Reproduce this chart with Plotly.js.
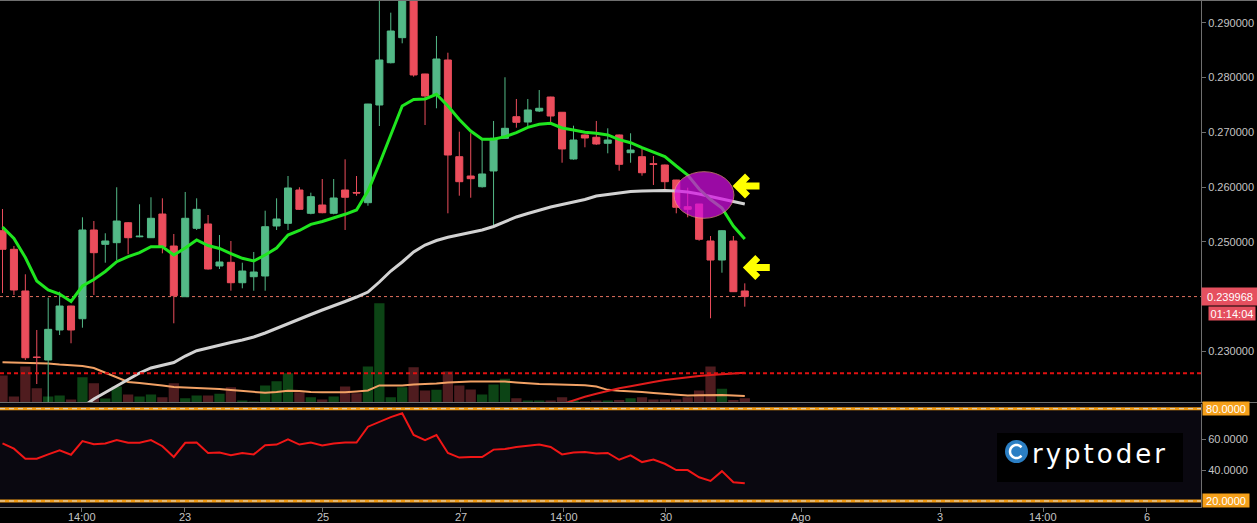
<!DOCTYPE html>
<html>
<head>
<meta charset="utf-8">
<script src="https://cdn.plot.ly/plotly-3.0.1.min.js"></script>
<style>
  html, body { margin: 0; padding: 0; background: #000; }
  #chart { width: 1257px; height: 523px; }
</style>
</head>
<body>
<div id="chart"></div>
<script>
// ---- 4h candles -----------------------------------------------------------
const openPx = [0.25201,0.24861,0.24099,0.22890,0.22837,0.23386,0.23824,0.23592,0.25214,0.24952,
  0.24982,0.25347,0.25090,0.25073,0.25506,0.24921,0.23994,0.25245,0.25324,0.24556,
  0.24623,0.24250,0.24360,0.24373,0.25287,0.25336,0.25945,0.25519,0.25671,0.25519,
  0.25945,0.25900,0.25713,0.27499,0.28272,0.28730,0.29600,0.28066,0.27682,0.28322,
  0.26554,0.26201,0.26005,0.26293,0.26890,0.27285,0.27188,0.27389,0.27645,0.27366,
  0.26512,0.26951,0.26909,0.26799,0.26951,0.26627,0.26554,0.26425,0.26402,0.26128,
  0.25640,0.25689,0.25013,0.24665,0.25013,0.24099];
const highPx = [0.25598,0.24921,0.24404,0.23386,0.23976,0.24086,0.23830,0.25446,0.25378,0.25154,
  0.25995,0.25360,0.25684,0.25812,0.25793,0.25141,0.25909,0.25793,0.25488,0.25122,
  0.25013,0.24616,0.24812,0.25567,0.25793,0.26201,0.25995,0.25896,0.26146,0.26146,
  0.26506,0.26201,0.27520,0.29480,0.29187,0.29800,0.29750,0.28070,0.28761,0.28455,
  0.27011,0.26982,0.26859,0.27207,0.28006,0.27609,0.27609,0.27773,0.27650,0.27370,
  0.27121,0.26960,0.27207,0.27073,0.26960,0.26982,0.26708,0.26567,0.26410,0.26130,
  0.25987,0.25690,0.25104,0.25210,0.25104,0.24239];
const lowPx = [0.24062,0.24026,0.22837,0.22398,0.22050,0.23294,0.23143,0.23428,0.24026,0.24616,
  0.24665,0.24770,0.25080,0.25070,0.24788,0.23508,0.23990,0.25214,0.24490,0.24501,
  0.24104,0.24148,0.24104,0.24104,0.25214,0.25214,0.25580,0.25501,0.25520,0.25501,
  0.25214,0.25840,0.25658,0.27115,0.28260,0.28627,0.28017,0.27133,0.27439,0.25519,
  0.25841,0.25804,0.25990,0.25305,0.26880,0.27084,0.27100,0.27370,0.27165,0.26444,
  0.26500,0.26726,0.26770,0.26616,0.26298,0.26444,0.26207,0.26037,0.25914,0.25519,
  0.25446,0.25018,0.23600,0.24433,0.24080,0.23812];
const closePx = [0.24861,0.24117,0.22879,0.22885,0.23398,0.23824,0.23386,0.25214,0.24799,0.25013,
  0.25378,0.25073,0.25100,0.25428,0.24909,0.24013,0.25428,0.25592,0.24501,0.24629,
  0.24250,0.24464,0.24446,0.25274,0.25415,0.25982,0.25592,0.25823,0.25530,0.25799,
  0.25812,0.25890,0.27517,0.28322,0.28852,0.29600,0.28048,0.27664,0.28340,0.26585,
  0.26097,0.26152,0.26238,0.26890,0.27073,0.27183,0.27408,0.27439,0.27298,0.26695,
  0.26859,0.26896,0.26786,0.26859,0.26415,0.26676,0.26261,0.26415,0.26097,0.25629,
  0.25592,0.25044,0.24665,0.25201,0.24086,0.239968];

// volume (millions) and its moving average
const volume = [1.34,0.30,1.79,0.71,0.30,0.35,0.15,1.26,0.96,0.20,
  0.80,0.40,0.30,0.40,0.26,0.96,0.21,0.35,0.35,0.43,
  0.76,0.10,0.05,0.85,1.06,1.46,0.51,0.26,0.15,0.30,
  0.80,0.46,1.79,4.94,0.26,0.76,1.76,0.60,0.63,1.54,
  0.85,0.65,0.40,0.90,1.18,0.21,0.10,0.10,0.10,0.26,
  0.10,0.06,0.10,0.10,0.13,0.21,0.26,0.15,0.15,0.15,
  0.26,0.60,1.79,0.68,0.13,0.21];
const volumeMA = [2.00,1.99,1.98,1.97,1.94,1.89,1.84,1.82,1.72,1.49,
  1.24,1.02,0.97,0.92,0.85,0.77,0.75,0.72,0.68,0.67,
  0.62,0.57,0.52,0.48,0.52,0.58,0.57,0.52,0.51,0.51,
  0.51,0.55,0.60,0.85,0.85,0.85,0.90,0.92,0.95,1.00,
  1.03,1.04,1.05,1.06,1.04,1.00,0.95,0.92,0.91,0.90,
  0.88,0.86,0.80,0.63,0.58,0.56,0.52,0.47,0.43,0.40,
  0.35,0.36,0.38,0.37,0.35,0.32];

// moving averages on price
const emaFast = [0.25269,0.25058,0.24711,0.24281,0.24117,0.24044,0.23907,0.24190,0.24309,0.24455,
  0.24634,0.24726,0.24799,0.24909,0.24909,0.24757,0.24885,0.25031,0.24930,0.24876,
  0.24784,0.24696,0.24647,0.24757,0.24885,0.25122,0.25205,0.25318,0.25369,0.25428,
  0.25501,0.25580,0.25927,0.26420,0.26951,0.27481,0.27600,0.27609,0.27695,0.27481,
  0.27234,0.27024,0.26872,0.26872,0.26920,0.26993,0.27091,0.27146,0.27165,0.27079,
  0.27042,0.27000,0.26982,0.26951,0.26865,0.26810,0.26718,0.26645,0.26558,0.26384,
  0.26219,0.25963,0.25771,0.25616,0.25287,0.25049];
const smaSlow = [null,null,null,null,null,null,null,0.21978,0.22124,0.22243,
  0.22362,0.22490,0.22600,0.22691,0.22746,0.22791,0.22910,0.23007,0.23057,0.23111,
  0.23157,0.23203,0.23258,0.23331,0.23417,0.23505,0.23596,0.23669,0.23751,0.23824,
  0.23907,0.23989,0.24080,0.24263,0.24464,0.24629,0.24812,0.24940,0.25022,0.25080,
  0.25122,0.25159,0.25214,0.25278,0.25360,0.25452,0.25516,0.25580,0.25634,0.25680,
  0.25726,0.25771,0.25835,0.25863,0.25890,0.25918,0.25927,0.25936,0.25936,0.25927,
  0.25909,0.25872,0.25826,0.25781,0.25744,0.25689];
const smaLong = [null,null,null,null,null,null,null,null,null,null,
  null,null,null,null,null,null,null,null,null,null,
  null,null,null,null,null,null,null,null,null,null,
  null,null,null,null,null,null,null,null,null,null,
  null,null,null,null,null,null,null,null,null,0.22030,
  0.22100,0.22164,0.22219,0.22274,0.22319,0.22356,0.22389,0.22435,0.22472,0.22499,
  0.22521,0.22545,0.22563,0.22581,0.22594,0.22605];

// RSI
const rsi = [57.5,54.0,47.5,47.5,50.3,53.0,50.1,58.9,56.9,57.4,
  59.6,57.8,57.8,59.6,55.6,48.6,57.8,58.0,51.2,51.5,
  49.7,51.2,50.3,56.3,56.7,60.0,56.7,58.0,56.1,57.4,
  58.0,58.0,68.3,71.6,74.5,77.0,62.9,59.6,62.9,51.2,
  48.2,48.6,48.6,53.4,53.8,55.1,55.8,56.7,55.1,50.3,
  51.5,51.9,50.8,51.2,46.8,49.7,45.3,47.0,44.2,40.1,
  40.1,35.4,33.0,39.4,32.2,31.5];

// time axis labels (candle index positions)
const tickPos  = [6.92, 15.95, 28.06, 40.12, 49.15, 58.08, 69.95, 82.1, 91.14, 100.19];
const tickText = ['14:00', '23', '25', '27', '14:00', '30', 'Ago', '3', '14:00', '6'];
const priceTicks = [0.23, 0.24, 0.25, 0.26, 0.27, 0.28, 0.29];
const rsiTicks = [40, 60];
const rsiBands = [80, 20];

const lastPrice = 0.239968;
const countdown = '01:14:04';
const alertLevel = 0.22595;

// ---- geometry helpers -----------------------------------------------------
const W = 1257, H = 523, M = {l: 0, r: 56, t: 1, b: 16};
const plotW = W - M.l - M.r, plotH = H - M.t - M.b;
const PX = px => (px - M.l) / plotW;
const PY = py => (H - M.b - py) / plotH;

const idx = closePx.map((_, i) => i);
const volColors = closePx.map((c, i) => c >= openPx[i] ? '#0c4415' : '#4f1c1f');

const UP = '#53b987', DOWN = '#eb4d5c', AXIS = '#6f6f6f', TXT = '#c4c4c4';
const FONT = 'Liberation Sans, Arial, sans-serif';

const traces = [
  { type: 'bar', x: idx, y: volume, xaxis: 'x', yaxis: 'y',
    marker: { color: volColors, line: { width: 0 } }, hoverinfo: 'skip' },
  { type: 'scatter', mode: 'lines', x: idx, y: volumeMA, xaxis: 'x', yaxis: 'y',
    line: { color: '#f2a165', width: 2 }, hoverinfo: 'skip' },
  { type: 'candlestick', x: idx, open: openPx, high: highPx, low: lowPx, close: closePx,
    xaxis: 'x', yaxis: 'y3', whiskerwidth: 0,
    increasing: { line: { color: UP, width: 1 }, fillcolor: UP },
    decreasing: { line: { color: DOWN, width: 1 }, fillcolor: DOWN },
    hoverinfo: 'skip' },
  { type: 'scatter', mode: 'lines', x: idx, y: smaLong, xaxis: 'x', yaxis: 'y3',
    line: { color: '#e01c1c', width: 2 }, hoverinfo: 'skip' },
  { type: 'scatter', mode: 'lines', x: idx, y: smaSlow, xaxis: 'x', yaxis: 'y3',
    line: { color: '#d2d2d2', width: 3 }, hoverinfo: 'skip' },
  { type: 'scatter', mode: 'lines', x: idx, y: emaFast, xaxis: 'x', yaxis: 'y3',
    line: { color: '#1fe61f', width: 3 }, hoverinfo: 'skip' },
  { type: 'scatter', mode: 'lines', x: idx, y: rsi, xaxis: 'x', yaxis: 'y2',
    line: { color: '#f01616', width: 2 }, hoverinfo: 'skip' }
];

// logo "C" mark: open ring drawn as a polyline around its centre
function ringPath(r, a0, a1, n) {
  let d = '';
  for (let k = 0; k <= n; k++) {
    const a = (a0 + (a1 - a0) * k / n) * Math.PI / 180;
    d += (k ? ' L ' : 'M ') + (r * Math.cos(a)).toFixed(2) + ' ' + (r * Math.sin(a)).toFixed(2);
  }
  return d;
}

const ARROW = 'M 13 10 L 3 0 L 13 -10 M 3 0 L 25 0';

const shapes = [
  // indicator pane background
  { type: 'rect', xref: 'x domain', yref: 'y2 domain', x0: 0, x1: 1, y0: 0, y1: 1,
    fillcolor: '#0a0810', line: { width: 0 }, layer: 'below' },
  // logo plate
  { type: 'rect', xref: 'paper', yref: 'paper', x0: PX(997), x1: PX(1183), y0: PY(482), y1: PY(433),
    fillcolor: '#000000', line: { width: 0 }, layer: 'below' },
  // last price line
  { type: 'line', xref: 'x domain', yref: 'y3', x0: 0, x1: 1, y0: lastPrice, y1: lastPrice,
    line: { color: '#e2705f', width: 1, dash: 'dot' }, layer: 'below' },
  // alert level
  { type: 'line', xref: 'x domain', yref: 'y3', x0: 0, x1: 1, y0: alertLevel, y1: alertLevel,
    line: { color: '#e01010', width: 2, dash: '4px,3px' }, layer: 'above' },
  // pane separators and frame
  { type: 'line', xref: 'paper', yref: 'paper', x0: 0, x1: W / plotW, y0: PY(402.5), y1: PY(402.5),
    line: { color: AXIS, width: 1 } },
  { type: 'line', xref: 'paper', yref: 'paper', x0: 0, x1: W / plotW, y0: PY(0.5), y1: PY(0.5),
    line: { color: AXIS, width: 1 } },
  // crossing highlight
  { type: 'circle', xref: 'x', yref: 'y3', x0: 58.8, x1: 64.05, y0: 0.25428, y1: 0.26280,
    fillcolor: '#d60ee4', opacity: 0.72, line: { color: '#f59090', width: 1 }, layer: 'above' },
  // pointers
  { type: 'path', xref: 'x', yref: 'y3', xsizemode: 'pixel', ysizemode: 'pixel',
    xanchor: 64.1, yanchor: 0.26018, path: ARROW,
    line: { color: '#ffff00', width: 7 }, layer: 'above' },
  { type: 'path', xref: 'x', yref: 'y3', xsizemode: 'pixel', ysizemode: 'pixel',
    xanchor: 65.0, yanchor: 0.24528, path: ARROW,
    line: { color: '#ffff00', width: 7 }, layer: 'above' },
  // logo mark
  { type: 'circle', xref: 'paper', yref: 'paper', x0: PX(1005), x1: PX(1028), y0: PY(463), y1: PY(440),
    fillcolor: '#2b7fc4', line: { width: 0 } },
  { type: 'path', xref: 'paper', yref: 'paper', xsizemode: 'pixel', ysizemode: 'pixel',
    xanchor: PX(1016.5), yanchor: PY(451.5), path: ringPath(6.5, 40, 320, 28),
    line: { color: '#ffffff', width: 2.5 } }
];
rsiBands.forEach(v => {
  shapes.push({ type: 'line', xref: 'x domain', yref: 'y2', x0: 0, x1: 1, y0: v, y1: v,
    line: { color: '#f29a12', width: 3 } });
  shapes.push({ type: 'line', xref: 'x domain', yref: 'y2', x0: 0, x1: 1, y0: v, y1: v,
    line: { color: '#d8d8d8', width: 1, dash: '5px,4px' } });
});

const annotations = [
  { xref: 'paper', yref: 'y3', x: 1, y: lastPrice, xanchor: 'left', yanchor: 'middle',
    text: lastPrice.toFixed(6), showarrow: false, bgcolor: '#e5505f', width: 54, height: 15,
    borderpad: 1, font: { family: FONT, size: 11, color: '#ffffff' } },
  { xref: 'paper', yref: 'y3', x: 1, y: lastPrice, xanchor: 'left', yanchor: 'middle',
    xshift: 7, yshift: -17, text: countdown, showarrow: false, bgcolor: '#e5505f',
    width: 46, height: 13, borderpad: 0, font: { family: FONT, size: 11, color: '#ffffff' } },
  { xref: 'paper', yref: 'paper', x: PX(1030), y: PY(454), xanchor: 'left', yanchor: 'middle',
    text: '<span style="letter-spacing:3px">ryptoder</span>', showarrow: false,
    font: { family: 'DejaVu Sans, sans-serif', size: 26, color: '#ffffff' } }
];
rsiBands.forEach(v => annotations.push({
  xref: 'paper', yref: 'y2', x: 1, y: v, xanchor: 'left', yanchor: 'middle', xshift: 1,
  text: v.toFixed(4), showarrow: false, bgcolor: '#f5a01a', width: 46, height: 13, borderpad: 0,
  font: { family: FONT, size: 11, color: '#ffffff' } }));
// time labels under the axis
tickPos.forEach((p, k) => annotations.push({
  xref: 'x', yref: 'paper', x: p, y: PY(517), xanchor: 'center', yanchor: 'middle',
  text: tickText[k], showarrow: false, font: { family: FONT, size: 11, color: TXT } }));

const layout = {
  width: W, height: H,
  margin: M,
  paper_bgcolor: '#000000', plot_bgcolor: '#000000',
  showlegend: false,
  hovermode: false,
  bargap: 0.1,
  boxgap: 0.3, boxgroupgap: 0.12,
  font: { family: FONT, size: 11, color: TXT },
  xaxis: {
    domain: [0, 1], anchor: 'y2', range: [-0.22, 104.95],
    rangeslider: { visible: false },
    showgrid: false, zeroline: false, showline: true, linecolor: AXIS, linewidth: 1,
    ticks: 'outside', ticklen: 4, tickcolor: AXIS, showticklabels: false,
    tickmode: 'array', tickvals: tickPos
  },
  yaxis: {
    domain: [PY(402.5), 1], anchor: 'x', range: [0, 20],
    showgrid: false, zeroline: false, showline: false, showticklabels: false, ticks: ''
  },
  yaxis3: {
    overlaying: 'y', anchor: 'x', side: 'right',
    range: [0.26 - 215.5 / 5470, 0.26 + 186 / 5470],
    showgrid: false, zeroline: false, showline: true, linecolor: AXIS, linewidth: 1,
    ticks: 'outside', ticklen: 4, tickcolor: AXIS,
    tickmode: 'array', tickvals: priceTicks, tickformat: '.6f',
    tickfont: { family: FONT, size: 11, color: TXT }
  },
  yaxis2: {
    domain: [0, PY(403.5)], anchor: 'x', side: 'right',
    range: [80 - (507 - 408.7) / 1.538, 80 + (408.7 - 403.5) / 1.538],
    showgrid: false, zeroline: false, showline: true, linecolor: AXIS, linewidth: 1,
    ticks: 'outside', ticklen: 4, tickcolor: AXIS,
    tickmode: 'array', tickvals: rsiTicks, tickformat: '.4f',
    tickfont: { family: FONT, size: 11, color: TXT }
  },
  shapes: shapes,
  annotations: annotations
};

Plotly.newPlot('chart', traces, layout, { staticPlot: true, displayModeBar: false });
</script>
</body>
</html>
